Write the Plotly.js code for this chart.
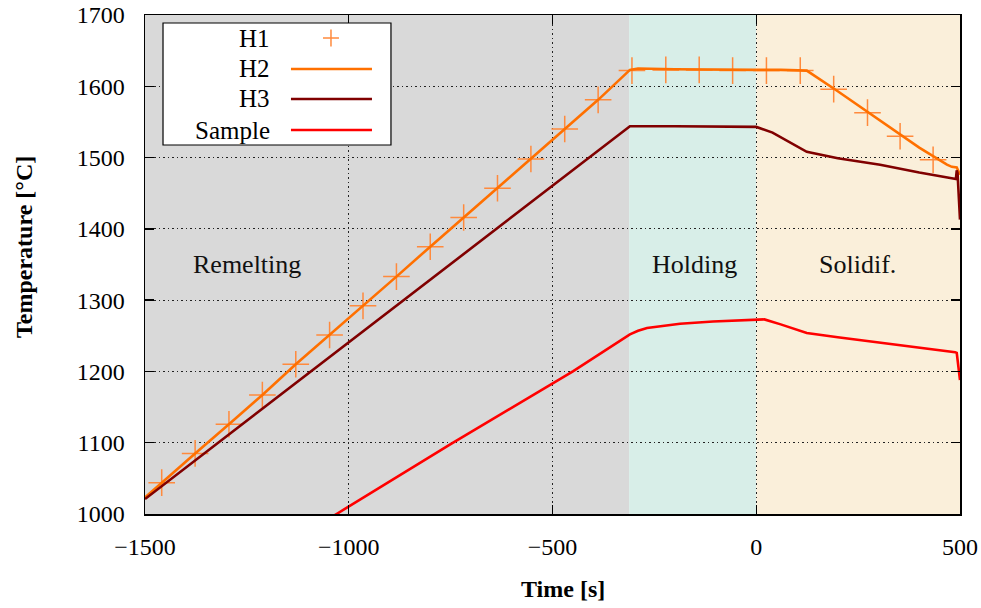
<!DOCTYPE html>
<html>
<head>
<meta charset="utf-8">
<script src="https://cdn.plot.ly/plotly-3.0.1.min.js"></script>
<style>html,body{margin:0;padding:0;background:#fff;}#chart{width:981px;height:608px;}</style>
</head>
<body>
<div id="chart"></div>
<script>
// ---- data ----
const h1Time = [-1459,-1377,-1294,-1212,-1130,-1047,-965,-883,-800,-718,-635,-553,-470,-388,-305,-222,-140,-58,25,108,190,273,353,434];
const h1Temp = [1044,1085,1126,1167,1210,1251,1292,1333,1375,1416,1457,1498,1540,1581,1622,1623,1623,1622,1622,1622,1596,1563,1530,1497];

const h2Time = [-1500,-1459,-1377,-1294,-1212,-1130,-1047,-965,-883,-800,-718,-635,-553,-470,-388,-310,-290,-200,-100,0,60,124,200,300,400,468,480,492,497,500];
const h2Temp = [1023,1044,1085,1126,1167,1210,1251,1292,1333,1375,1416,1457,1498,1540,1581,1623,1625,1624,1623,1623,1623,1622,1593,1553,1514,1490,1487,1486,1478,1476];

const h3Time = [-1500,-1000,-500,-310,-200,-100,0,40,80,124,200,304,400,490,492,494,500];
const h3Temp = [1021,1241,1461,1544,1544,1543,1543,1535,1522,1508,1499,1490,1479,1470,1482,1478,1413];

const sampleTime = [-1100,-1030,-750,-450,-310,-290,-268,-230,-187,-106,-23,0,20,60,100,124,200,300,400,488,492,500];
const sampleTemp = [975,1000,1098,1200,1252,1257,1261,1264,1267,1270,1272,1273,1273,1266,1259,1254,1248,1241,1234,1227,1226,1188];

const phaseNames = ["Remelting","Holding","Solidif."];
const phaseStart = [-1500,-312,0];
const phaseEnd = [-312,0,500];
const phaseColors = ["#d9d9d9","#d8eee8","#faefda"];
const phaseLabelTime = [-1250,-151,248];
const phaseLabelTemp = 1350;

const seriesNames = ["H1","H2","H3","Sample"];
const seriesColors = ["#ff8a3d","#ff7000","#800000","#ff0000"];

const xTicks = [-1500,-1000,-500,0,500];
const yTicks = [1000,1100,1200,1300,1400,1500,1600,1700];

// ---- traces ----
const FONT = "Liberation Serif";
const traces = [
  {x:h1Time, y:h1Temp, mode:"markers", name:seriesNames[0],
   marker:{symbol:"cross-thin", size:19, line:{color:seriesColors[0], width:1.5}}},
  {x:h2Time, y:h2Temp, mode:"lines", name:seriesNames[1], line:{color:seriesColors[1], width:2.6}},
  {x:h3Time, y:h3Temp, mode:"lines", name:seriesNames[2], line:{color:seriesColors[2], width:2.6}},
  {x:sampleTime, y:sampleTemp, mode:"lines", name:seriesNames[3], line:{color:seriesColors[3], width:2.6}}
];

// ---- shapes: phase backgrounds ----
const shapes = [];
for (let i = 0; i < phaseNames.length; i++) {
  shapes.push({type:"rect", xref:"x", yref:"paper", x0:phaseStart[i], x1:phaseEnd[i], y0:0, y1:1,
    fillcolor:phaseColors[i], line:{width:0}, layer: i === 1 ? "between" : "below"});
}

// ---- custom legend (label left, key right) ----
const legBox = {x0:0.0221, x1:0.3018, y0:0.7395, y1:0.984};
shapes.push({type:"rect", xref:"paper", yref:"paper", x0:legBox.x0, x1:legBox.x1, y0:legBox.y0, y1:legBox.y1,
  fillcolor:"#ffffff", line:{color:"#000000", width:1.2}, layer:"above"});
const legRowY = [0.9539, 0.8918, 0.8317, 0.7695];
const legTextX = 0.1558, legKeyX0 = 0.1791, legKeyX1 = 0.2785, legCrossX = 0.2282;
const annotations = [];
for (let i = 0; i < seriesNames.length; i++) {
  annotations.push({xref:"paper", yref:"paper", x:legTextX, y:legRowY[i], text:seriesNames[i],
    showarrow:false, xanchor:"right", yanchor:"middle", font:{family:FONT, size:25, color:"#000"}});
  if (i === 0) {
    shapes.push({type:"line", xref:"paper", yref:"paper", x0:legCrossX-0.0098, x1:legCrossX+0.0098,
      y0:legRowY[i], y1:legRowY[i], line:{color:seriesColors[i], width:1.5}, layer:"above"});
    shapes.push({type:"line", xref:"paper", yref:"paper", x0:legCrossX, x1:legCrossX,
      y0:legRowY[i]-0.017, y1:legRowY[i]+0.017, line:{color:seriesColors[i], width:1.5}, layer:"above"});
  } else {
    shapes.push({type:"line", xref:"paper", yref:"paper", x0:legKeyX0, x1:legKeyX1,
      y0:legRowY[i], y1:legRowY[i], line:{color:seriesColors[i], width:2.6}, layer:"above"});
  }
}

// phase labels
for (let i = 0; i < phaseNames.length; i++) {
  annotations.push({x:phaseLabelTime[i], y:phaseLabelTemp, xref:"x", yref:"y", text:phaseNames[i],
    showarrow:false, font:{family:FONT, size:26, color:"#111"}});
}
// axis titles
annotations.push({xref:"paper", yref:"paper", x:0.513, y:-0.150, text:"<b>Time [s]</b>", showarrow:false,
  xanchor:"center", yanchor:"middle", font:{family:FONT, size:24, color:"#000"}});
annotations.push({xref:"paper", yref:"paper", x:-0.1485, y:0.535, text:"<b>Temperature [°C]</b>", showarrow:false,
  textangle:-90, xanchor:"center", yanchor:"middle", font:{family:FONT, size:24, color:"#000"}});

const axisCommon = {
  showline:true, linecolor:"#000", linewidth:1.5, mirror:"ticks",
  ticks:"inside", ticklen:9, tickwidth:1.3, tickcolor:"#000",
  showgrid:true, gridcolor:"#222", gridwidth:1, griddash:"1.5px,3px",
  zeroline:false, tickfont:{family:FONT, size:24, color:"#000"}
};

const layout = {
  width:981, height:608,
  margin:{l:145, r:21, t:15, b:94},
  paper_bgcolor:"#ffffff", plot_bgcolor:"#ffffff",
  showlegend:false,
  xaxis:Object.assign({}, axisCommon, {range:[-1500,500], tickvals:xTicks, ticklabelstandoff:11}),
  yaxis:Object.assign({}, axisCommon, {range:[1000,1700], tickvals:yTicks, ticklabelstandoff:14}),
  shapes:shapes,
  annotations:annotations
};

Plotly.newPlot("chart", traces, layout, {displayModeBar:false, staticPlot:true});
</script>
</body>
</html>
